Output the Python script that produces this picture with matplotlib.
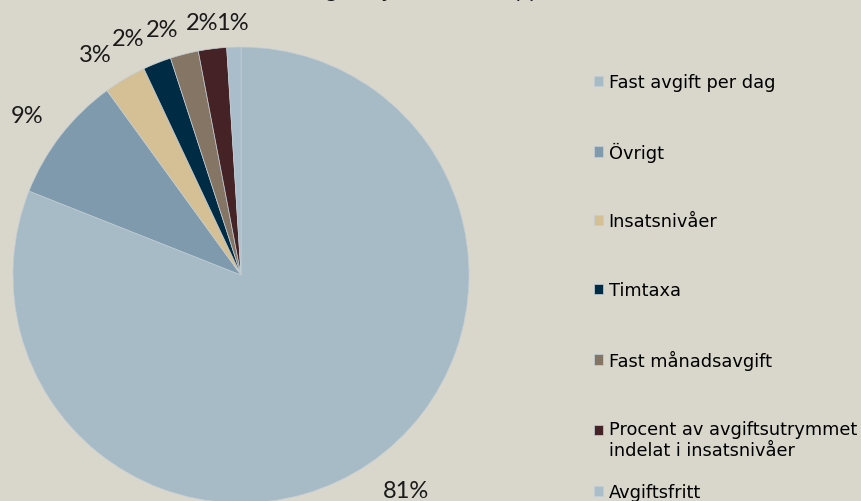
import numpy as np
import matplotlib.pyplot as plt
from matplotlib.patches import Rectangle
from matplotlib.legend_handler import HandlerPatch

categories = ['Fast avgift per dag', 'Övrigt', 'Insatsnivåer', 'Timtaxa',
              'Fast månadsavgift',
              'Procent av avgiftsutrymmet\nindelat i insatsnivåer',
              'Avgiftsfritt']
shares = [81, 9, 3, 2, 2, 2, 1]
colors = ['#A7BBC7', '#7E9AAC', '#D5C095', '#002B45', '#857565', '#442225', '#A9BDCA']
title = 'Andel kommuner efter vilket avgiftssystem som appliceras'

# label placement tweaks (degrees, radius factor), like Excel's best fit
label_nudge = [3.3, 1.2, 2.8, 3.8, 3.4, 1.6, 0.2]
label_rad = [1.19, 1.17, 1.16, 1.15, 1.13, 1.12, 1.11]

bg = '#D9D7CB'
plt.rcParams['font.family'] = ['Lato', 'DejaVu Sans']

fig = plt.figure(figsize=(8.61, 5.02), dpi=100, facecolor=bg)
ax = fig.add_axes([13 / 861, -2 / 502, 456 / 861, 456 / 502])
ax.set_facecolor(bg)

wedges, texts = ax.pie(
    shares, colors=colors, startangle=90, counterclock=False,
    wedgeprops=dict(edgecolor='#C3CED5', linewidth=0.5))
for w, v, dth, rf in zip(wedges, shares, label_nudge, label_rad):
    th = np.deg2rad((w.theta1 + w.theta2) / 2 + dth)
    ax.text(rf * np.cos(th), rf * np.sin(th), f'{v}%', ha='center', va='center',
            fontsize=17, color='#1a1a1a', clip_on=False)
ax.set_xlim(-1, 1)
ax.set_ylim(-1, 1)
ax.set_aspect('auto')
ax.axis('off')


def up_patch(legend, orig_handle, xdescent, ydescent, width, height, fontsize):
    # marker next to the first line of a two-line label
    return Rectangle((-xdescent, -ydescent + 0.6 * fontsize), width, height)


leg_kw = dict(frameon=False, prop={'family': 'DejaVu Sans', 'size': 12.8},
              handlelength=0.52, handleheight=0.52, handletextpad=0.3,
              borderaxespad=0, borderpad=0)
leg1 = fig.legend(wedges[:6], categories[:6], loc='upper left',
                  bbox_to_anchor=(594 / 861, 1 - 74 / 502), labelspacing=2.85,
                  handler_map={wedges[5]: HandlerPatch(patch_func=up_patch)}, **leg_kw)
fig.legend(wedges[6:], categories[6:], loc='upper left',
           bbox_to_anchor=(594 / 861, 1 - 484 / 502), **leg_kw)

fig.text(-0.005, 1 + 3 / 502, title, fontsize=15, va='baseline', ha='left',
         color='#1a1a1a', family='DejaVu Sans')

fig.savefig('out.png', dpi=100, facecolor=bg)
